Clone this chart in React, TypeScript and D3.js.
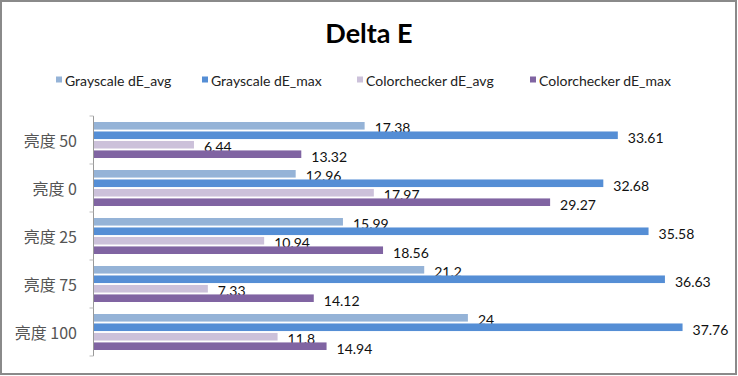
import React from "react";
import * as d3 from "d3";

const categories = ["亮度 50", "亮度 0", "亮度 25", "亮度 75", "亮度 100"];
const seriesNames = ["Grayscale dE_avg", "Grayscale dE_max", "Colorchecker dE_avg", "Colorchecker dE_max"];
const grayAvg = [17.38, 12.96, 15.99, 21.2, 24];
const grayMax = [33.61, 32.68, 35.58, 36.63, 37.76];
const colorAvg = [6.44, 17.97, 10.94, 7.33, 11.8];
const colorMax = [13.32, 29.27, 18.56, 14.12, 14.94];
const seriesColors = ["#95B3D7", "#558ED5", "#CCC1DA", "#8064A2"];
const xDomainMax = 40;

const W = 738;
const H = 376;
const FONT = "Lato, 'Open Sans', sans-serif";

export default function App() {
  const seriesValues = [grayAvg, grayMax, colorAvg, colorMax];
  const x = d3.scaleLinear().domain([0, xDomainMax]).range([93.5, 717.5]);
  const y = d3.scaleBand<string>().domain(categories).range([116, 356]).paddingInner(0.25).paddingOuter(0.125);
  const inner = d3.scaleBand<string>().domain(seriesNames).range([0, y.bandwidth()]).paddingInner(0.2).paddingOuter(0);

  const legendX = [56, 202, 357, 530];

  return (
    <svg width={W} height={H} style={{ position: "absolute", left: 0, top: 0, background: "#fff" }}>
      <rect x={1} y={1} width={W - 3} height={H - 3} fill="#fff" stroke="#8a8a8a" strokeWidth={2} />
      <text x={369} y={43} textAnchor="middle" fontFamily={FONT} fontWeight={700} fontSize={27} fill="#000">
        Delta E
      </text>
      {seriesNames.map((s, i) => (
        <g key={s}>
          <rect x={legendX[i]} y={76.5} width={6} height={6} fill={seriesColors[i]} />
          <text x={legendX[i] + 9} y={80} dominantBaseline="central" fontFamily={FONT} fontSize={14} fill="#222">
            {s}
          </text>
        </g>
      ))}
      {categories.map((c, ci) => (
        <g key={c}>
          <text
            x={77}
            y={(y(c) as number) + y.bandwidth() / 2}
            textAnchor="end"
            dominantBaseline="central"
            fontFamily="'Noto Sans CJK SC', sans-serif"
            fontSize={16}
            fill="#555"
          >
            {c}
          </text>
          {seriesNames.map((s, si) => {
            const v = seriesValues[si][ci];
            const by = (y(c) as number) + (inner(s) as number);
            return (
              <g key={s}>
                <rect x={x(0)} y={by} width={x(v) - x(0)} height={inner.bandwidth()} fill={seriesColors[si]} />
                <text
                  x={x(v) + 10}
                  y={by + inner.bandwidth() / 2 + 2}
                  dominantBaseline="central"
                  fontFamily={FONT}
                  fontSize={14}
                  fill="#111"
                >
                  {v}
                </text>
              </g>
            );
          })}
        </g>
      ))}
      <line x1={x(0)} x2={x(0)} y1={116} y2={356} stroke="#999" strokeWidth={1} />
      {d3.range(categories.length + 1).map((i) => {
        const yy = 116 + i * y.step();
        return <line key={i} x1={x(0) - 4} x2={x(0)} y1={yy} y2={yy} stroke="#bbb" strokeWidth={1} />;
      })}
    </svg>
  );
}
